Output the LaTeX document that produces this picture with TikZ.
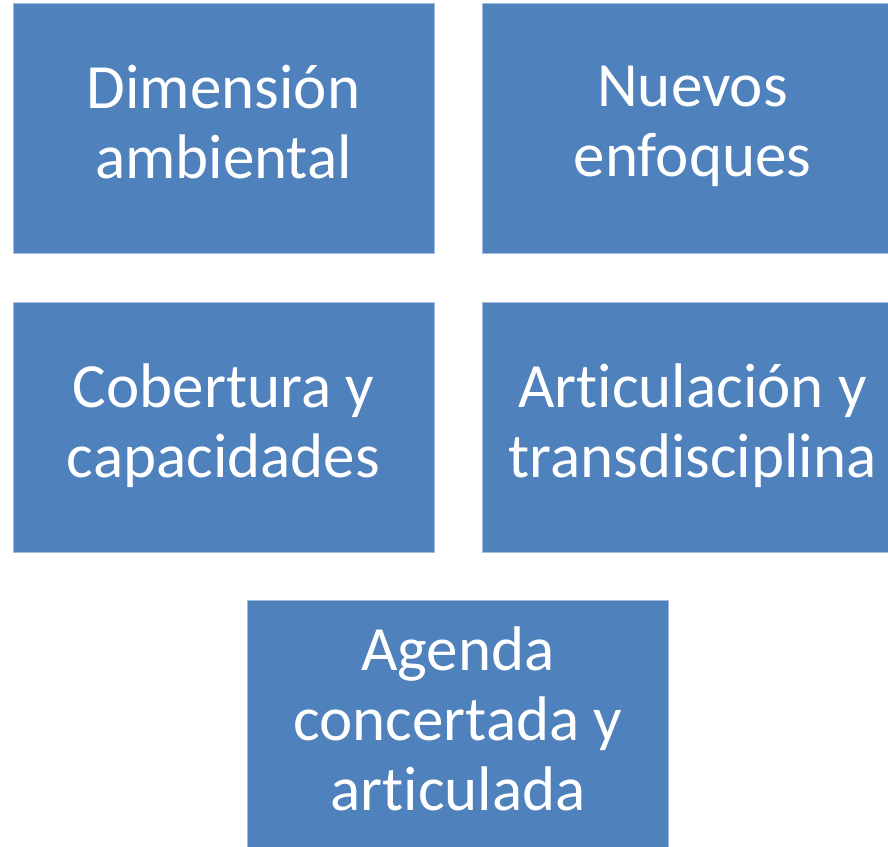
\documentclass[tikz,border=0pt]{standalone}
\usepackage{fontspec}
\setmainfont[Ligatures=NoCommon]{Carlito}
\definecolor{boxblue}{HTML}{4F81BD}
\definecolor{boxedge}{HTML}{A3BBDD}
\begin{document}
\begin{tikzpicture}[x=1pt,y=1pt,
  topicbox/.style={fill=boxblue, draw=boxedge, line width=0.8pt,
    minimum width=421pt, minimum height=250pt, inner sep=0pt,
    text=white, align=center,
    font=\fontsize{63}{70}\selectfont,
    execute at begin node=\strut, execute at end node=\strut}]
\useasboundingbox (0,0) rectangle (888,-846);
\clip (0,0) rectangle (888,-846);
\node[topicbox] (dim) at (223.5,-128) {};
\node[topicbox] (nue) at (692.5,-128) {};
\node[topicbox] (cob) at (223.5,-427) {};
\node[topicbox] (art) at (692.5,-427) {};
\node[topicbox] (age) at (458,-725) {};
\node[text=white, align=center, inner sep=0pt, font=\fontsize{63}{70}\selectfont,
  execute at begin node=\strut, execute at end node=\strut] at (dim.center) [yshift=-4pt] {Dimensión\\ambiental};
\node[text=white, align=center, inner sep=0pt, font=\fontsize{63}{70}\selectfont,
  execute at begin node=\strut, execute at end node=\strut] at (nue.center) [yshift=-4pt] {Nuevos\\enfoques};
\node[text=white, align=center, inner sep=0pt, font=\fontsize{63}{70}\selectfont,
  execute at begin node=\strut, execute at end node=\strut] at (cob.center) [yshift=-4pt] {Cobertura y\\capacidades};
\node[text=white, align=center, inner sep=0pt, font=\fontsize{63}{70}\selectfont,
  execute at begin node=\strut, execute at end node=\strut] at (art.center) [yshift=-4pt] {Articulación y\\transdisciplina};
\node[text=white, align=center, inner sep=0pt, font=\fontsize{63}{70}\selectfont,
  execute at begin node=\strut, execute at end node=\strut] at (age.center) [yshift=-4pt] {Agenda\\concertada y\\articulada};
\end{tikzpicture}
\end{document}
